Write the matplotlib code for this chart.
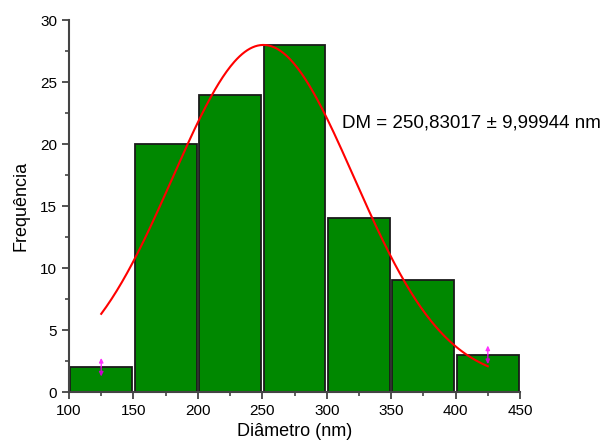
import numpy as np
import matplotlib
matplotlib.use("Agg")
import matplotlib.pyplot as plt

# histogram of particle diameters (nm)
bin_edges = [100, 150, 200, 250, 300, 350, 400, 450]
counts = [2, 20, 24, 28, 14, 9, 3]

# gaussian fit (offset + amplitude * exp)
fit_y0 = 0.8
fit_amp = 27.2
fit_xc = 250.83017
fit_sigma = 70.4
fit_range = (125, 425)

# markers at the outer bins
err_x = [125, 425]
err_y = [2, 3]
err_half = [0.75, 0.75]

plt.rcParams["font.family"] = ["Liberation Sans", "DejaVu Sans"]

fig = plt.figure(figsize=(6.08, 4.48), dpi=100)
ax = fig.add_axes([0.1135, 0.125, 0.7418, 0.830])

lefts = np.array(bin_edges[:-1])
widths = np.diff(bin_edges)
ax.bar(lefts + 1, counts, width=widths - 2, align="edge",
       color="#008800", edgecolor="#1a1a1a", linewidth=1.3)

xs = np.linspace(*fit_range, 300)
ys = fit_y0 + fit_amp * np.exp(-(xs - fit_xc) ** 2 / (2 * fit_sigma ** 2))
ax.plot(xs, ys, color="#ff0000", linewidth=1.5)

for x, y, h in zip(err_x, err_y, err_half):
    ax.annotate("", xy=(x, y + h), xytext=(x, y),
                arrowprops=dict(arrowstyle="-|>,head_length=0.25,head_width=0.12",
                                color="#ff33ff", lw=1.0, shrinkA=0, shrinkB=0))
    ax.annotate("", xy=(x, y - h), xytext=(x, y),
                arrowprops=dict(arrowstyle="-|>,head_length=0.25,head_width=0.12",
                                color="#cc00cc", lw=1.0, shrinkA=0, shrinkB=0))

ax.text(312, 21.7, "DM = 250,83017 \u00b1 9,99944 nm", fontsize=13.5,
        va="center", ha="left")

ax.set_xlim(100, 450)
ax.set_ylim(0, 30)
ax.set_xticks(range(100, 451, 50))
ax.set_xticks(range(125, 451, 50), minor=True)
ax.set_yticks(range(0, 31, 5))
ax.set_yticks(np.arange(2.5, 30, 5), minor=True)

for side in ("top", "right"):
    ax.spines[side].set_visible(False)
for side in ("left", "bottom"):
    ax.spines[side].set_color("#444444")
    ax.spines[side].set_linewidth(1.5)
ax.tick_params(which="major", direction="out", length=5, width=1.3,
               color="#444444", labelsize=11)
ax.tick_params(which="minor", direction="out", length=3, width=1.2,
               color="#444444")

ax.set_xlabel("Diâmetro (nm)", fontsize=13, labelpad=4)
ax.set_ylabel("Frequência", fontsize=13, labelpad=8)

fig.savefig("out.png", dpi=100)
